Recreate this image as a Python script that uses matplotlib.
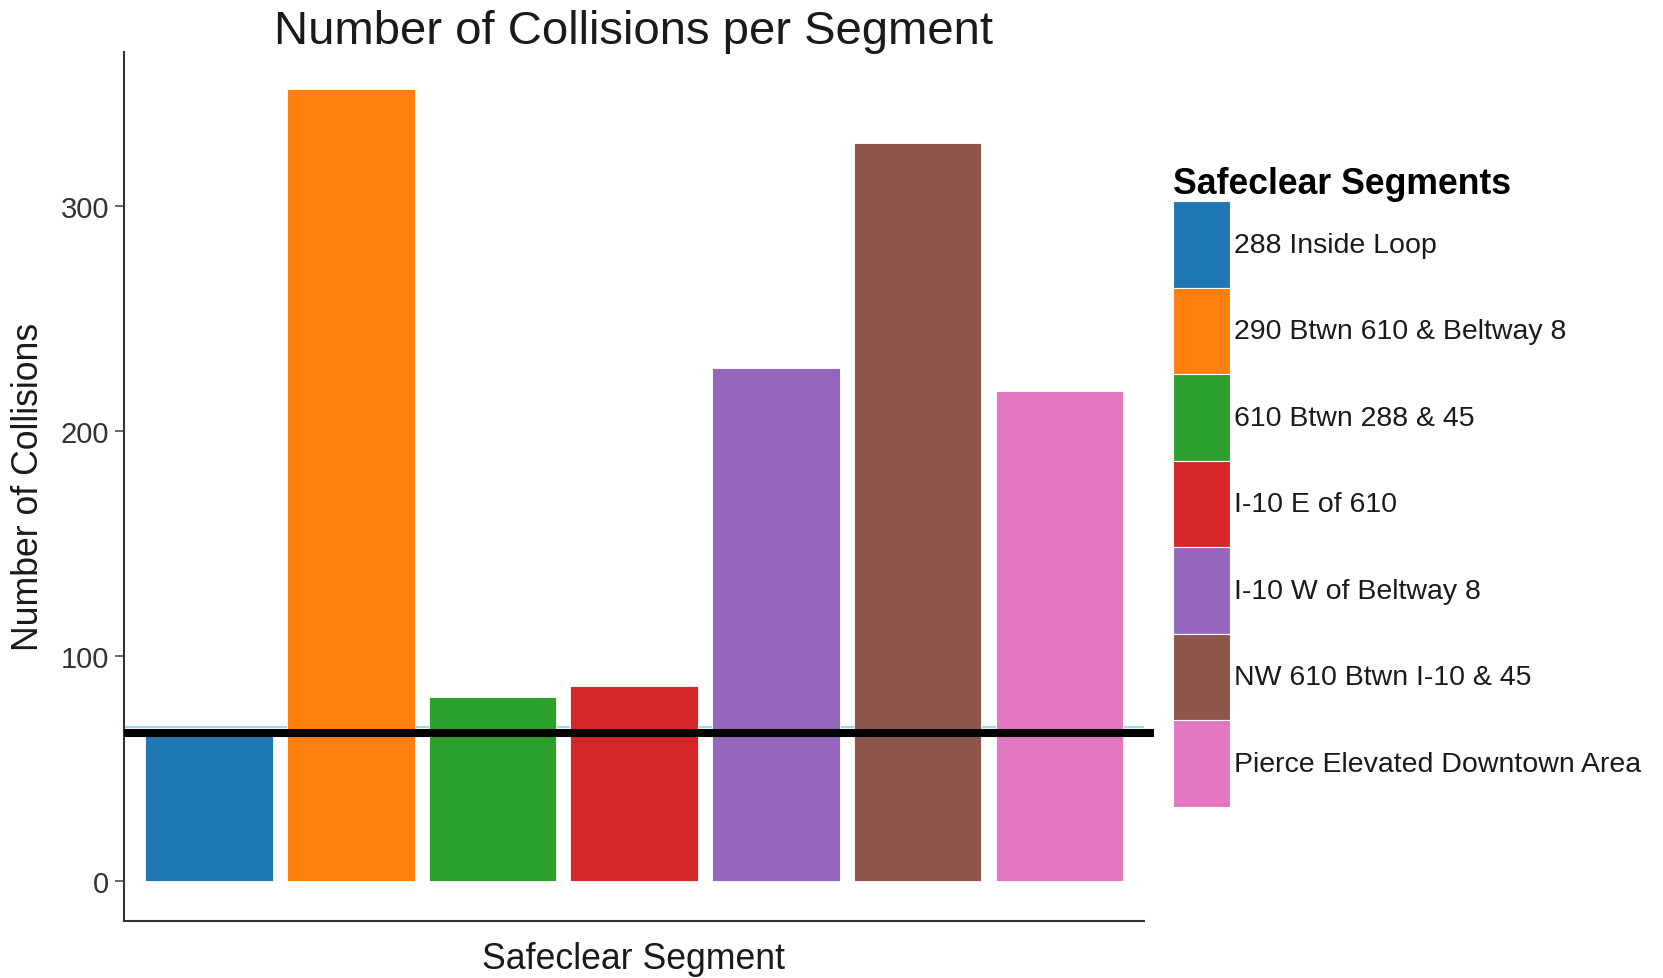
import matplotlib
matplotlib.use("Agg")
import matplotlib.pyplot as plt
from matplotlib.patches import Patch

# === DATA ===
segments = [
    "288 Inside Loop",
    "290 Btwn 610 & Beltway 8",
    "610 Btwn 288 & 45",
    "I-10 E of 610",
    "I-10 W of Beltway 8",
    "NW 610 Btwn I-10 & 45",
    "Pierce Elevated Downtown Area",
]
collisions = [65, 352, 82, 87, 228, 328, 218]
colors = ["#1f77b4", "#ff7f0e", "#2ca02c", "#d62728", "#9467bd", "#8c564b", "#e377c2"]
y_ticks = [0, 100, 200, 300]

# reference lines drawn with the bars
cyan_level = 68.4
black_level = 65.8
black_span = [-0.6, 6.67]

# === STYLE ===
plt.rcParams["font.family"] = ["Liberation Sans", "DejaVu Sans"]
TEXT = "#1a1a1a"
TICK = "#4d4d4d"

fig = plt.figure(figsize=(16.63, 9.79), dpi=100)
ax = fig.add_axes([0.0746, 0.0585, 0.6135, 0.8874])

# === BARS ===
xs = list(range(len(segments)))
ax.axhline(cyan_level, color="#93dde6", lw=1.6, zorder=1)
ax.bar(xs, collisions, width=0.9, color=colors, edgecolor="white", linewidth=0.6, zorder=2)
ax.plot(black_span, [black_level, black_level], color="black", lw=5.8,
        solid_capstyle="butt", clip_on=False, zorder=4)

ax.set_xlim(-0.6, 6.6)
ax.set_ylim(-17.55, 368.6)
ax.set_xticks([])
ax.set_yticks(y_ticks)
ax.tick_params(axis="y", labelsize=21, colors=TICK, length=6.8, width=1.2, pad=4)
ax.tick_params(axis="y", labelcolor="#333333")

for side in ["top", "right"]:
    ax.spines[side].set_visible(False)
for side in ["left", "bottom"]:
    ax.spines[side].set_color("#333333")
    ax.spines[side].set_linewidth(1.5)

# === TEXTS ===
fig.text(634 / 1663, 1 - 44.5 / 979, "Number of Collisions per Segment",
         fontsize=34, color=TEXT, ha="center", va="baseline")
fig.text(634 / 1663, 1 - 969 / 979, "Safeclear Segment",
         fontsize=25.7, color=TEXT, ha="center", va="baseline")
fig.text(29 / 1663, 1 - 487 / 979, "Number of Collisions",
         fontsize=25.7, color=TEXT, ha="center", va="center", rotation=90)

# === LEGEND ===
handles = [Patch(facecolor=c, edgecolor="white", linewidth=0.8) for c in colors]
leg = fig.legend(handles, segments, loc="upper left",
                 bbox_to_anchor=(1173 / 1663, 1 - 167 / 979),
                 frameon=False, fontsize=20.5, borderpad=0, borderaxespad=0,
                 labelspacing=0, handlelength=2.0, handleheight=4.3,
                 handletextpad=0.16, alignment="left",
                 title="Safeclear Segments",
                 title_fontproperties={"size": 25.7, "weight": "bold"})
for t in leg.get_texts():
    t.set_color(TEXT)

fig.savefig("out.png", dpi=100)
